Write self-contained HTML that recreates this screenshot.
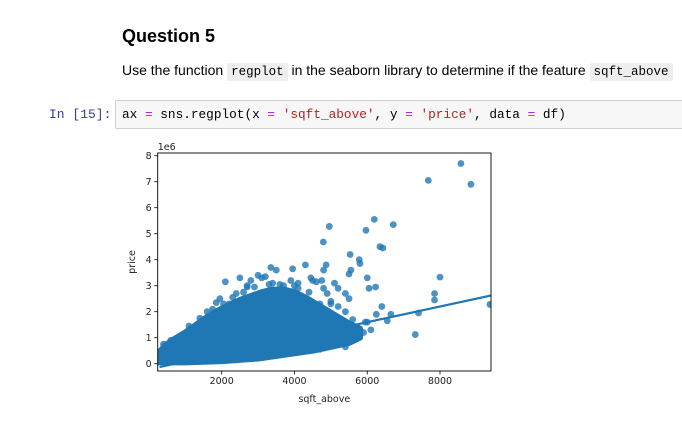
<!DOCTYPE html>
<html><head><meta charset="utf-8"><style>
body{margin:0;width:682px;height:433px;background:#fff;overflow:hidden;position:relative;font-family:"Liberation Sans",sans-serif}
.abs{position:absolute}
code{font-family:"Liberation Mono",monospace;background:#eee;padding:2px 4px;border-radius:2px;font-size:12.5px}
</style></head><body>
<div class="abs" style="left:122px;top:26px;font-size:18px;font-weight:bold;color:#000">Question 5</div>
<div class="abs" style="left:122px;top:62px;font-size:14px;color:#000;white-space:nowrap">Use the function <code>regplot</code> in the seaborn library to determine if the feature <code>sqft_above</code></div>
<div class="abs" style="left:49px;top:107px;font-family:'Liberation Mono',monospace;font-size:13px;color:#303f9f">In [15]:</div>
<div class="abs" style="left:115px;top:100px;width:580px;height:29px;background:#f7f7f7;border:1px solid #cfcfcf;border-radius:2px;box-sizing:border-box;font-family:'Liberation Mono',monospace;font-size:12.75px;line-height:27px;padding-left:6px;white-space:nowrap">ax <span style="color:#aa22ff">=</span> sns.regplot(x <span style="color:#aa22ff">=</span> <span style="color:#ba2121">'sqft_above'</span>, y <span style="color:#aa22ff">=</span> <span style="color:#ba2121">'price'</span>, data <span style="color:#aa22ff">=</span> df)</div>
<svg class="abs" style="left:0;top:0" width="682" height="433" id="chart"></svg>
<script>
const xTicks=[2000,4000,6000,8000];
const yTicks=[0,1,2,3,4,5,6,7,8];
const blobUpperX=[250,450,700,1000,1300,1600,1900,2200,2500,2800,3100,3400,3700,4000,4300,4600,4900,5200,5500,5800];
const blobUpperY=[0.4,0.7,0.95,1.2,1.5,1.8,2.05,2.25,2.45,2.6,2.75,2.85,2.85,2.75,2.55,2.3,2.05,1.8,1.55,1.35];
const blobLowerX=[5800,5500,5000,4500,4000,3500,3000,2000,1000,250];
const blobLowerY=[1.0,0.8,0.65,0.5,0.4,0.3,0.2,0.1,0.05,0.05];
const ptsX=[8575,7678,8850,6194,6716,4958,5965,4793,6350,6430,5530,5780,5800,4870,4800,8000,6000,6050,6230,7850,7850,9372,7410,7320,6400,6650,6550,6250,5800,6100,5950,5700,5500,5400,4800,4700,4300,3350,3950,3500,3200,2500,2100,3000,3100,2800,2700,4450,4500,4600,4750,5100,5500,5550,5200,5400,5500,5200,5400,5300,5000,4900,4800,3700,4100,1950,1850,2300,1600,2200,3650,4000,3800,4200,4600,5100,5350,4900,4500,4300,400,600,900,1200,3300,3900,2600,1400,1750,2050,2400,2900,3400,4100,4400,5000,5600,5700,6000,1100,2700,3600,4700,5300,5900];
const ptsY=[7.7,7.05,6.9,5.55,5.35,5.28,5.13,4.68,4.5,4.45,4.2,4.0,3.85,3.8,3.6,3.33,3.3,2.9,2.95,2.7,2.45,2.28,1.95,1.12,2.2,1.9,1.65,1.9,1.3,1.3,1.6,0.95,0.9,0.65,0.6,0.55,3.8,3.7,3.65,3.6,3.35,3.3,3.15,3.4,3.3,3.2,3.0,3.3,3.2,3.15,3.2,3.1,3.45,3.6,2.9,2.7,2.5,2.2,2.0,1.7,2.4,2.7,2.9,3.0,2.9,2.5,2.35,2.55,2.0,2.3,2.8,3.0,2.6,2.5,1.9,1.5,1.3,1.0,0.95,0.8,0.75,0.9,1.05,1.3,3.05,3.2,2.75,1.75,2.1,2.3,2.7,2.95,3.1,3.1,2.75,2.3,1.7,1.2,1.6,1.45,2.95,3.05,2.3,1.5,1.2];
const lineX=[290,9420];
const lineY=[-0.13,2.63];
const NS='http://www.w3.org/2000/svg';
const svg=document.getElementById('chart');
const L=157.7,R=491,T=153,B=371;
const sx=v=>221.7+(v-2000)*(440-221.7)/6000;
const sy=v=>363.7-v*(363.7-155.7)/8;
function mk(tag,attrs,parent){const e=document.createElementNS(NS,tag);for(const k in attrs)e.setAttribute(k,attrs[k]);(parent||svg).appendChild(e);return e;}
const defs=mk('defs',{});
const cp=mk('clipPath',{id:'clip'},defs);mk('rect',{x:L,y:T,width:R-L,height:B-T},cp);
const g=mk('g',{'clip-path':'url(#clip)'});


let d='';
blobUpperX.forEach((x,i)=>{d+=(i?'L':'M')+sx(x)+' '+sy(blobUpperY[i]);});
blobLowerX.forEach((x,i)=>{d+='L'+sx(x)+' '+sy(blobLowerY[i]);});
const blob=mk('path',{d:d+'Z',fill:'#1f77b4',stroke:'#1f77b4','stroke-width':6,'stroke-linejoin':'round'},g);


ptsX.forEach((x,i)=>{
  const c=mk('circle',{cx:sx(x),cy:sy(ptsY[i]),r:3.4,fill:'rgba(31,119,180,0.8)'},g);
  
  
});
const ln=mk('line',{x1:sx(lineX[0]),y1:sy(lineY[0]),x2:sx(lineX[1]),y2:sy(lineY[1]),stroke:'#1f77b4','stroke-width':2.2},g);


const fr=mk('rect',{x:L,y:T,width:R-L,height:B-T,fill:'none',stroke:'#000','stroke-width':0.9});


xTicks.forEach(v=>{
  mk('line',{x1:sx(v),x2:sx(v),y1:B,y2:B+3.5,stroke:'#000','stroke-width':0.8});
  const t=mk('text',{x:sx(v),y:B+13,'text-anchor':'middle','font-size':9.5,'font-family':'DejaVu Sans, sans-serif',fill:'#222'});
  t.textContent=v;
  
  
});
yTicks.forEach(v=>{
  mk('line',{x1:L-3.5,x2:L,y1:sy(v),y2:sy(v),stroke:'#000','stroke-width':0.8});
  const t=mk('text',{x:L-6,y:sy(v)+3.5,'text-anchor':'end','font-size':9.5,'font-family':'DejaVu Sans, sans-serif',fill:'#222'});
  t.textContent=v;
  
  
});
const off=mk('text',{x:L,y:T-3,'font-size':9.5,'font-family':'DejaVu Sans, sans-serif',fill:'#222'});off.textContent='1e6';


const xl=mk('text',{x:(L+R)/2,y:402,'text-anchor':'middle','font-size':9.5,'font-family':'DejaVu Sans, sans-serif',fill:'#222'});xl.textContent='sqft_above';


const yl=mk('text',{x:0,y:0,'text-anchor':'middle','font-size':9.5,'font-family':'DejaVu Sans, sans-serif',fill:'#222',transform:'translate(135,'+((T+B)/2)+') rotate(-90)'});yl.textContent='price';


</script>
</body></html>
